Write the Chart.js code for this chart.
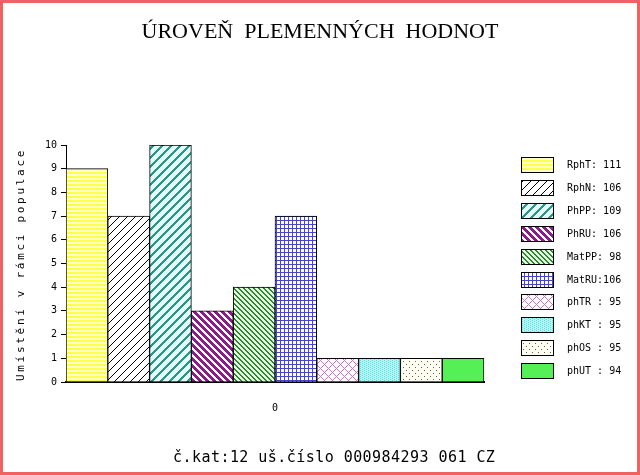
<!DOCTYPE html>
<html>
<head>
<meta charset="utf-8">
<script src="https://cdn.jsdelivr.net/npm/chart.js@4.4.0/dist/chart.umd.min.js"></script>
<style>
  html, body { margin: 0; padding: 0; background: #fff; }
  #wrap { position: relative; width: 640px; height: 475px; }
  #frame { position: absolute; left: 0; top: 0; width: 640px; height: 475px; box-sizing: border-box; border: 3px solid #f06262; pointer-events: none; }
  canvas { display: block; }
</style>
</head>
<body>
<div id="wrap">
  <canvas id="chart" width="640" height="475"></canvas>
  <div id="frame"></div>
</div>
<script>
// --- data ---
const categories = ['0'];
const traitLabels = ['RphT: 111', 'RphN: 106', 'PhPP: 109', 'PhRU: 106', 'MatPP: 98',
                     'MatRU:106', 'phTR : 95', 'phKT : 95', 'phOS : 95', 'phUT : 94'];
const rankValues = [9, 7, 10, 3, 4, 7, 1, 1, 1, 1];
const yTicks = [0, 1, 2, 3, 4, 5, 6, 7, 8, 9, 10];

const titleText = 'ÚROVEŇ  PLEMENNÝCH  HODNOT';
const yTitleText = 'Umístění v rámci populace';
const captionText = 'č.kat:12 uš.číslo 000984293 061 CZ';

const MONO = "'DejaVu Sans Mono', monospace";

// small pixel tiles, used as fills for bars and legend boxes
const pixelPattern = (size, bg, fg, test) => {
    const c = document.createElement('canvas');
    c.width = size;
    c.height = size;
    const g = c.getContext('2d');
    g.fillStyle = bg;
    g.fillRect(0, 0, size, size);
    g.fillStyle = fg;
    for (let y = 0; y < size; y++) {
        for (let x = 0; x < size; x++) {
            if (test(x, y)) g.fillRect(x, y, 1, 1);
        }
    }
    return g.createPattern(c, 'repeat');
};
const mod = (a, n) => ((a % n) + n) % n;

const fills = [
    pixelPattern(4, '#ffffc8', '#ffff50', (x, y) => y < 2),                       // RphT
    pixelPattern(8, '#ffffff', '#000000', (x, y) => (x + y) % 8 === 7),           // RphN
    pixelPattern(9, '#e4fcf8', '#2a968a', (x, y) => (x + y) % 9 < 3),             // PhPP
    pixelPattern(7, '#ffffff', '#8c1c8c', (x, y) => mod(x - y, 7) < 4),           // PhRU
    pixelPattern(5, '#e6f7e6', '#2a8a2a', (x, y) => mod(x - y, 5) < 2),           // MatPP
    pixelPattern(4, '#ffffff', '#4646c8', (x, y) => x === 0 || y === 0),          // MatRU
    pixelPattern(8, '#ffffff', '#d070d0', (x, y) => (x + y) % 8 === 0 || mod(x - y, 8) === 0), // phTR
    pixelPattern(4, '#b4f6f6', '#5adede', (x, y) => (x + 2 * y) % 4 === 0),       // phKT
    pixelPattern(6, '#fffff6', '#7a5a3a', (x, y) => (x === 1 && y === 1) || (x === 4 && y === 4)), // phOS
    '#55f055'                                                                       // phUT
];

// legend, y title and bottom caption
const extras = {
    id: 'extras',
    afterDraw: (chart) => {
        const ctx = chart.ctx;
        const area = chart.chartArea;
        ctx.save();

        // legend on the right
        const boxX = area.right + 37;
        chart.data.datasets.forEach((ds, i) => {
            const y = Math.round(area.top + 12 + i * 22.9);
            ctx.fillStyle = ds.backgroundColor;
            ctx.fillRect(boxX, y, 33, 16);
            ctx.strokeStyle = '#000';
            ctx.lineWidth = 1;
            ctx.strokeRect(boxX + 0.5, y + 0.5, 32, 15);
            ctx.fillStyle = '#000';
            ctx.font = '10px ' + MONO;
            ctx.textAlign = 'left';
            ctx.textBaseline = 'middle';
            ctx.fillText(ds.label, boxX + 46, y + 8.5);
        });

        // rotated y axis title
        ctx.save();
        ctx.translate(21, (area.top + area.bottom) / 2 + 1);
        ctx.rotate(-Math.PI / 2);
        ctx.font = '11px ' + MONO;
        ctx.letterSpacing = '2.7px';
        ctx.textAlign = 'center';
        ctx.textBaseline = 'middle';
        ctx.fillStyle = '#000';
        ctx.fillText(yTitleText, 0, 0);
        ctx.restore();

        // caption under the chart
        ctx.font = '15px ' + MONO;
        ctx.letterSpacing = '0.45px';
        ctx.textAlign = 'left';
        ctx.textBaseline = 'alphabetic';
        ctx.fillStyle = '#000';
        ctx.fillText(captionText, 173, 462);

        ctx.restore();
    }
};

const ctx = document.getElementById('chart').getContext('2d');
const chart = new Chart(ctx, {
    type: 'bar',
    data: {
        labels: categories,
        datasets: traitLabels.map((label, i) => ({
            label: label,
            data: [rankValues[i]],
            backgroundColor: fills[i],
            borderColor: '#000',
            borderWidth: 1
        }))
    },
    options: {
        responsive: false,
        animation: false,
        devicePixelRatio: 1,
        layout: { padding: 0 },
        datasets: { bar: { categoryPercentage: 1, barPercentage: 1 } },
        plugins: {
            legend: { display: false },
            tooltip: { enabled: false },
            title: {
                display: true,
                text: titleText,
                color: '#000',
                font: { family: "'Liberation Serif', serif", size: 22, weight: 'normal' },
                padding: { top: 19, bottom: 99.6 }
            }
        },
        scales: {
            x: {
                grid: { display: false },
                border: { color: '#000', width: 2 },
                ticks: { color: '#000', font: { family: MONO, size: 10 }, padding: 12 },
                afterFit: (s) => { s.height = 93; }
            },
            y: {
                min: 0,
                max: 10,
                afterBuildTicks: (s) => { s.ticks = yTicks.map(v => ({ value: v })); },
                ticks: { color: '#000', font: { family: MONO, size: 10 }, padding: 4 },
                grid: { drawOnChartArea: false, tickLength: 5, color: '#000' },
                border: { color: '#000', width: 1 },
                afterFit: (s) => { s.width = 66; }
            },
            // empty right axis that only reserves room for the legend
            legendSpace: {
                position: 'right',
                ticks: { display: false },
                grid: { display: false },
                border: { display: false },
                afterFit: (s) => { s.width = 156; }
            }
        }
    },
    plugins: [extras]
});
</script>
</body>
</html>
